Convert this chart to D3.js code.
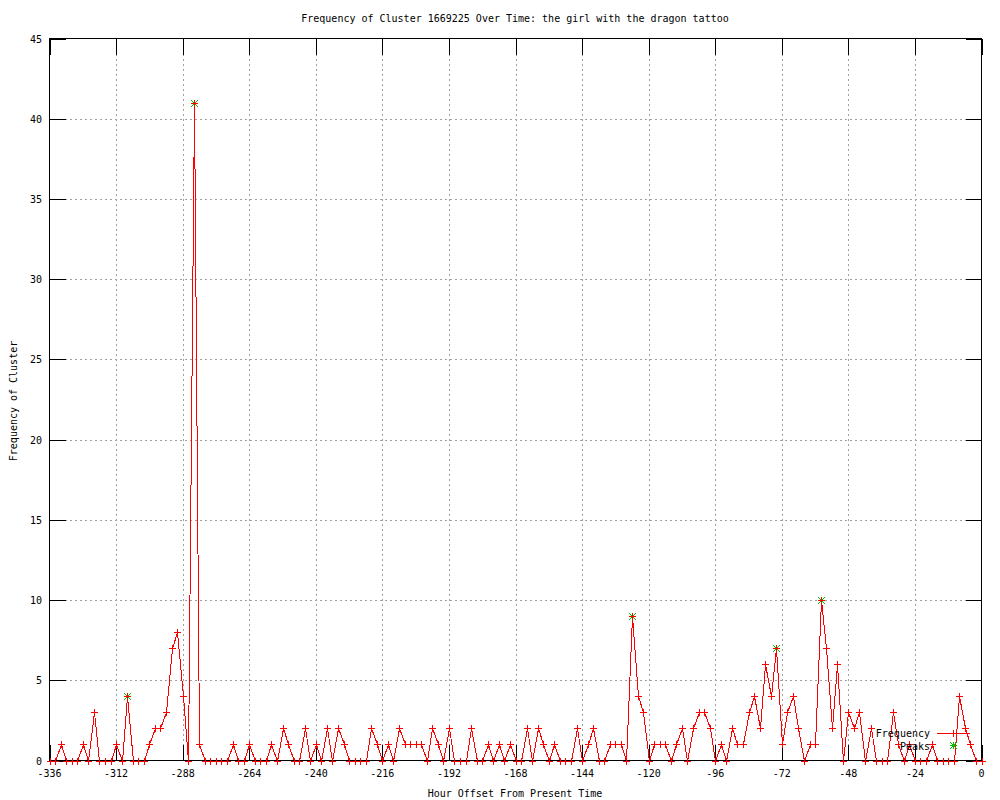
<!DOCTYPE html>
<html>
<head>
<meta charset="utf-8">
<script src="https://cdn.jsdelivr.net/npm/d3@7"></script>
<style>
  body { margin: 0; background: #fff; }
  text { font-family: "DejaVu Sans Mono", monospace; font-size: 10px; fill: #000; }
</style>
</head>
<body>
<div id="chart"></div>
<script>
// frequency per 2-hour bucket, from -336h to 0h
const hours = d3.range(-336, 1, 2);
const frequency = [
  0, 0, 1, 0, 0, 0, 1, 0, 3, 0, 0, 0, 1, 0, 4, 0, 0, 0, 1, 2,
  2, 3, 7, 8, 4, 0, 41, 1, 0, 0, 0, 0, 0, 1, 0, 0, 1, 0, 0, 0,
  1, 0, 2, 1, 0, 0, 2, 0, 1, 0, 2, 0, 2, 1, 0, 0, 0, 0, 2, 1,
  0, 1, 0, 2, 1, 1, 1, 1, 0, 2, 1, 0, 2, 0, 0, 0, 2, 0, 0, 1,
  0, 1, 0, 1, 0, 0, 2, 0, 2, 1, 0, 1, 0, 0, 0, 2, 0, 1, 2, 0,
  0, 1, 1, 1, 0, 9, 4, 3, 0, 1, 1, 1, 0, 1, 2, 0, 2, 3, 3, 2,
  0, 1, 0, 2, 1, 1, 3, 4, 2, 6, 4, 7, 1, 3, 4, 2, 0, 1, 1, 10,
  7, 2, 6, 0, 3, 2, 3, 0, 2, 0, 0, 0, 3, 1, 0, 1, 0, 0, 0, 1,
  0, 0, 0, 0, 4, 2, 1, 0, 0
];
const peakHours = [-308, -284, -126, -74, -58];
const xTicks = d3.range(-336, 1, 24);
const yTicks = d3.range(0, 46, 5);

const titleText = "Frequency of Cluster 1669225 Over Time: the girl with the dragon tattoo";
const xLabel = "Hour Offset From Present Time";
const yLabel = "Frequency of Cluster";

const width = 1000, height = 800;
const margin = { left: 49.5, right: 981.5, top: 38.5, bottom: 760.5 };
const tickLen = 16;

const freqData = hours.map((h, i) => ({ h: h, v: frequency[i] }));
const peakData = peakHours.map(h => ({ h: h, v: frequency[hours.indexOf(h)] }));

const x = d3.scaleLinear().domain([-336, 0]).range([margin.left, margin.right]);
const y = d3.scaleLinear().domain([0, 45]).range([margin.bottom, margin.top]);

const svg = d3.select('#chart').append('svg')
  .attr('width', width)
  .attr('height', height);

// grid
const grid = svg.append('g')
  .attr('stroke', '#a0a0a0')
  .attr('stroke-dasharray', '2,3')
  .attr('shape-rendering', 'crispEdges');
grid.selectAll('.gx')
  .data(xTicks.slice(1, -1))
  .enter().append('line')
  .attr('x1', d => Math.round(x(d)) + 0.5).attr('x2', d => Math.round(x(d)) + 0.5)
  .attr('y1', margin.top).attr('y2', margin.bottom);
grid.selectAll('.gy')
  .data(yTicks.slice(1, -1))
  .enter().append('line')
  .attr('y1', d => Math.round(y(d)) + 0.5).attr('y2', d => Math.round(y(d)) + 0.5)
  .attr('x1', margin.left).attr('x2', margin.right);

// ticks on all four sides, pointing inward
const ticks = svg.append('g')
  .attr('stroke', '#000')
  .attr('shape-rendering', 'crispEdges');
xTicks.forEach(function (d) {
  const px = Math.round(x(d)) + 0.5;
  ticks.append('line').attr('x1', px).attr('x2', px).attr('y1', margin.bottom).attr('y2', margin.bottom - tickLen);
  ticks.append('line').attr('x1', px).attr('x2', px).attr('y1', margin.top).attr('y2', margin.top + tickLen);
});
yTicks.forEach(function (d) {
  const py = Math.round(y(d)) + 0.5;
  ticks.append('line').attr('y1', py).attr('y2', py).attr('x1', margin.left).attr('x2', margin.left + tickLen);
  ticks.append('line').attr('y1', py).attr('y2', py).attr('x1', margin.right).attr('x2', margin.right - tickLen);
});

// tick labels
svg.append('g').selectAll('text')
  .data(xTicks)
  .enter().append('text')
  .attr('x', d => x(d))
  .attr('y', 777)
  .attr('text-anchor', 'middle')
  .text(d => d);
svg.append('g').selectAll('text')
  .data(yTicks)
  .enter().append('text')
  .attr('x', 42)
  .attr('y', d => y(d) + 4)
  .attr('text-anchor', 'end')
  .text(d => d);

// border
svg.append('rect')
  .attr('x', margin.left).attr('y', margin.top)
  .attr('width', margin.right - margin.left).attr('height', margin.bottom - margin.top)
  .attr('fill', 'none').attr('stroke', '#000')
  .attr('shape-rendering', 'crispEdges');

// titles
svg.append('text').attr('x', 515).attr('y', 22).attr('text-anchor', 'middle').text(titleText);
svg.append('text').attr('x', 515).attr('y', 797).attr('text-anchor', 'middle').text(xLabel);
svg.append('text')
  .attr('transform', 'translate(17,401) rotate(-90)')
  .attr('text-anchor', 'middle')
  .text(yLabel);

// markers
function plus(g, cx, cy, color) {
  g.append('path')
    .attr('d', `M${cx - 3.5},${cy}H${cx + 3.5}M${cx},${cy - 3.5}V${cy + 3.5}`)
    .attr('stroke', color).attr('fill', 'none');
}
function cross(g, cx, cy, color) {
  g.append('path')
    .attr('d', `M${cx - 3.5},${cy - 3.5}L${cx + 3.5},${cy + 3.5}M${cx - 3.5},${cy + 3.5}L${cx + 3.5},${cy - 3.5}`)
    .attr('stroke', color).attr('fill', 'none');
}

const plot = svg.append('g').attr('shape-rendering', 'crispEdges');

// peaks (green stars)
const peakG = plot.append('g');
peakData.forEach(function (d) {
  const cx = Math.round(x(d.h)) + 0.5, cy = Math.round(y(d.v)) + 0.5;
  cross(peakG, cx, cy, '#00c000');
  plus(peakG, cx, cy, '#00c000');
});

// frequency line
const line = d3.line()
  .x(d => Math.round(x(d.h)) + 0.5)
  .y(d => Math.round(y(d.v)) + 0.5);
plot.append('path')
  .datum(freqData)
  .attr('d', line)
  .attr('fill', 'none')
  .attr('stroke', '#ff0000')
  .attr('stroke-width', 1);
const freqG = plot.append('g');
freqData.forEach(function (d) {
  plus(freqG, Math.round(x(d.h)) + 0.5, Math.round(y(d.v)) + 0.5, '#ff0000');
});

// legend
svg.append('text').attr('x', 930).attr('y', 737).attr('text-anchor', 'end').text('Frequency');
svg.append('text').attr('x', 930).attr('y', 750).attr('text-anchor', 'end').text('Peaks');
const legG = svg.append('g').attr('shape-rendering', 'crispEdges');
legG.append('line')
  .attr('x1', 937).attr('x2', 970).attr('y1', 733.5).attr('y2', 733.5)
  .attr('stroke', '#ff0000');
plus(legG, 953.5, 733.5, '#ff0000');
cross(legG, 953.5, 745.5, '#00c000');
plus(legG, 953.5, 745.5, '#00c000');
</script>
</body>
</html>
